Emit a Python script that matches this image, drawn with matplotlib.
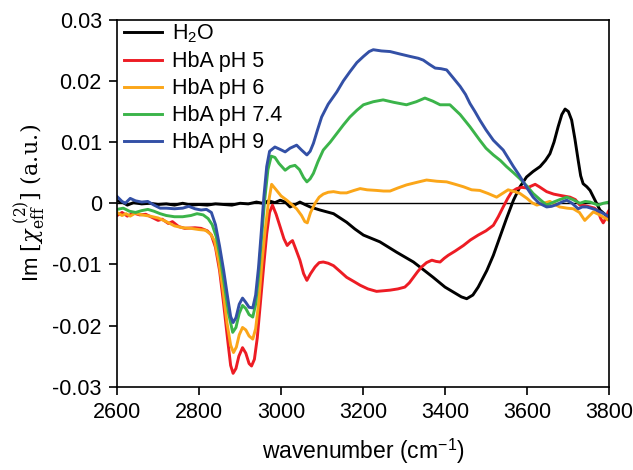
import matplotlib
matplotlib.use("Agg")
import matplotlib.pyplot as plt
import numpy as np

plt.rcParams['font.family'] = ['Liberation Sans', 'DejaVu Sans']
plt.rcParams['mathtext.fontset'] = 'dejavuserif'

wn_h2o = [2600, 2615, 2625, 2640, 2660, 2680, 2700, 2720, 2740, 2760, 2780, 2800, 2820, 2840,
          2860, 2880, 2900, 2920, 2940, 2955, 2970, 2985, 2998, 3010, 3022, 3035, 3046, 3058,
          3071, 3095, 3128, 3160, 3180, 3201, 3241, 3282, 3323, 3350, 3371, 3400, 3420, 3440,
          3453, 3468, 3481, 3502, 3518, 3534, 3550, 3567, 3583, 3599, 3615, 3632, 3645, 3656,
          3666, 3676, 3685, 3693, 3701, 3709, 3717, 3725, 3731, 3737, 3746, 3754, 3766, 3778,
          3790, 3800]
im_h2o = [0.0004, 0.0001, -0.0003, 0.0001, -0.0001, 0.0000, -0.0002, -0.0001, -0.0003, 0.0000,
          -0.0003, -0.0002, -0.0003, -0.0001, -0.0002, -0.0003, 0.0000, -0.0001, 0.0002, 0.0000,
          0.0004, 0.0001, 0.0005, 0.0002, -0.0006, -0.0002, 0.0002, -0.0002, -0.0006, -0.0011,
          -0.0017, -0.0031, -0.0042, -0.0052, -0.0063, -0.0080, -0.0096, -0.0110, -0.0121,
          -0.0137, -0.0145, -0.0153, -0.0156, -0.0150, -0.0137, -0.0110, -0.0085, -0.0055,
          -0.0025, 0.0005, 0.0027, 0.0043, 0.0052, 0.0060, 0.0070, 0.0081, 0.0100, 0.0125,
          0.0145, 0.0154, 0.0150, 0.0136, 0.0105, 0.0070, 0.0045, 0.0032, 0.0027, 0.0021,
          0.0005, -0.0011, -0.0018, -0.0022]

wn_ph5 = [2600, 2612, 2625, 2640, 2655, 2670, 2685, 2700, 2710, 2725, 2735, 2750, 2765, 2790,
          2805, 2820, 2830, 2840, 2850, 2860, 2870, 2877, 2883, 2890, 2897, 2906, 2914, 2922,
          2928, 2935, 2942, 2950, 2958, 2965, 2972, 2979, 2988, 2998, 3007, 3015, 3022, 3028,
          3036, 3046, 3055, 3063, 3072, 3083, 3093, 3103, 3115, 3128, 3145, 3160, 3178, 3193,
          3212, 3233, 3250, 3266, 3285, 3302, 3313, 3323, 3333, 3343, 3355, 3368, 3378, 3388,
          3398, 3408, 3425, 3445, 3462, 3481, 3500, 3518, 3530, 3542, 3553, 3563, 3575, 3587,
          3600, 3610, 3620, 3630, 3648, 3665, 3680, 3705, 3718, 3729, 3742, 3754, 3765, 3774,
          3780, 3786, 3792, 3798, 3800]
im_ph5 = [-0.0020, -0.0015, -0.0021, -0.0016, -0.0019, -0.0018, -0.0023, -0.0028, -0.0026,
          -0.0033, -0.0030, -0.0038, -0.0041, -0.0040, -0.0041, -0.0045, -0.0052, -0.0072,
          -0.0110, -0.0165, -0.0225, -0.0265, -0.0278, -0.0270, -0.0250, -0.0236, -0.0245,
          -0.0262, -0.0266, -0.0255, -0.0220, -0.0160, -0.0100, -0.0050, -0.0015, -0.0003,
          -0.0018, -0.0039, -0.0058, -0.0069, -0.0064, -0.0061, -0.0075, -0.0093, -0.0115,
          -0.0126, -0.0115, -0.0104, -0.0097, -0.0096, -0.0098, -0.0102, -0.0112, -0.0121,
          -0.0128, -0.0134, -0.0140, -0.0144, -0.0143, -0.0142, -0.0140, -0.0137, -0.0130,
          -0.0121, -0.0112, -0.0104, -0.0097, -0.0093, -0.0095, -0.0096, -0.0090, -0.0085,
          -0.0078, -0.0069, -0.0060, -0.0052, -0.0045, -0.0036, -0.0022, -0.0006, 0.0008,
          0.0019, 0.0024, 0.0026, 0.0025, 0.0028, 0.0031, 0.0027, 0.0019, 0.0015, 0.0013,
          0.0010, 0.0006, -0.0003, -0.0004, -0.0006, -0.0008, -0.0014, -0.0025, -0.0032,
          -0.0025, -0.0014, -0.0012]

wn_ph6 = [2600, 2612, 2622, 2632, 2645, 2660, 2680, 2700, 2720, 2740, 2760, 2780, 2800, 2815,
          2828, 2838, 2848, 2858, 2868, 2877, 2884, 2891, 2898, 2906, 2914, 2922, 2931, 2938,
          2945, 2953, 2961, 2969, 2977, 2988, 3000, 3014, 3026, 3038, 3050, 3058, 3064, 3072,
          3083, 3093, 3103, 3115, 3128, 3145, 3160, 3178, 3193, 3210, 3233, 3250, 3266, 3285,
          3306, 3330, 3355, 3380, 3404, 3425, 3445, 3465, 3485, 3505, 3526, 3540, 3554, 3570,
          3583, 3600, 3612, 3624, 3640, 3656, 3668, 3680, 3698, 3713, 3728, 3741, 3750, 3762,
          3780, 3800]
im_ph6 = [-0.0015, -0.0020, -0.0017, -0.0021, -0.0016, -0.0019, -0.0021, -0.0024, -0.0030,
          -0.0037, -0.0040, -0.0041, -0.0043, -0.0044, -0.0050, -0.0062, -0.0095, -0.0140,
          -0.0195, -0.0232, -0.0244, -0.0235, -0.0215, -0.0203, -0.0207, -0.0217, -0.0222,
          -0.0205, -0.0165, -0.0100, -0.0045, 0.0000, 0.0031, 0.0022, 0.0012, 0.0005, -0.0002,
          -0.0009, -0.0020, -0.0030, -0.0032, -0.0015, 0.0000, 0.0010, 0.0015, 0.0018, 0.0019,
          0.0017, 0.0017, 0.0021, 0.0024, 0.0022, 0.0021, 0.0020, 0.0020, 0.0025, 0.0030,
          0.0034, 0.0038, 0.0036, 0.0035, 0.0031, 0.0027, 0.0022, 0.0021, 0.0016, 0.0010,
          0.0016, 0.0022, 0.0019, 0.0016, 0.0008, 0.0001, -0.0003, 0.0000, 0.0003, -0.0002,
          -0.0006, -0.0008, -0.0009, -0.0015, -0.0028, -0.0022, -0.0014, -0.0020, -0.0028]

wn_ph74 = [2600, 2615, 2630, 2645, 2660, 2675, 2690, 2705, 2720, 2740, 2760, 2780, 2795, 2810,
           2822, 2832, 2842, 2852, 2862, 2872, 2882, 2890, 2898, 2906, 2914, 2922, 2931, 2938,
           2945, 2952, 2960, 2968, 2976, 2985, 2995, 3010, 3022, 3034, 3045, 3055, 3063, 3071,
           3079, 3090, 3103, 3120, 3136, 3152, 3168, 3185, 3201, 3225, 3249, 3275, 3306, 3330,
           3351, 3370, 3388, 3412, 3437, 3461, 3485, 3500, 3518, 3535, 3550, 3567, 3583, 3600,
           3615, 3632, 3648, 3665, 3680, 3697, 3712, 3729, 3742, 3754, 3766, 3774, 3786, 3800]
im_ph74 = [-0.0010, -0.0008, -0.0013, -0.0015, -0.0012, -0.0010, -0.0013, -0.0017, -0.0020,
           -0.0022, -0.0022, -0.0020, -0.0017, -0.0019, -0.0025, -0.0035, -0.0055, -0.0090,
           -0.0135, -0.0180, -0.0211, -0.0203, -0.0180, -0.0167, -0.0172, -0.0182, -0.0186,
           -0.0165, -0.0120, -0.0060, 0.0005, 0.0055, 0.0077, 0.0075, 0.0065, 0.0054, 0.0060,
           0.0062, 0.0055, 0.0042, 0.0035, 0.0040, 0.0049, 0.0068, 0.0087, 0.0100, 0.0114,
           0.0128, 0.0141, 0.0152, 0.0161, 0.0166, 0.0169, 0.0165, 0.0161, 0.0166, 0.0172,
           0.0167, 0.0161, 0.0161, 0.0145, 0.0125, 0.0103, 0.0090, 0.0079, 0.0070, 0.0060,
           0.0050, 0.0040, 0.0028, 0.0016, 0.0006, -0.0003, 0.0002, 0.0006, 0.0010, 0.0006,
           0.0000, 0.0003, 0.0002, -0.0001, -0.0003, 0.0000, 0.0002]

wn_ph9 = [2600, 2612, 2620, 2632, 2645, 2660, 2675, 2690, 2705, 2720, 2740, 2760, 2775, 2790,
          2805, 2818, 2830, 2840, 2850, 2860, 2870, 2877, 2883, 2890, 2898, 2906, 2914, 2922,
          2931, 2938, 2945, 2952, 2958, 2965, 2972, 2985, 2998, 3010, 3022, 3038, 3050, 3063,
          3071, 3079, 3089, 3099, 3115, 3136, 3152, 3168, 3185, 3201, 3215, 3225, 3245, 3266,
          3290, 3315, 3335, 3347, 3362, 3376, 3390, 3404, 3420, 3437, 3450, 3461, 3473, 3485,
          3500, 3518, 3530, 3542, 3555, 3567, 3580, 3591, 3603, 3615, 3630, 3648, 3660, 3673,
          3685, 3697, 3710, 3725, 3735, 3746, 3756, 3766, 3782, 3798, 3800]
im_ph9 = [0.0011, 0.0003, 0.0000, 0.0008, 0.0004, 0.0002, 0.0003, -0.0003, -0.0008, -0.0008,
          -0.0009, -0.0008, -0.0005, -0.0009, -0.0011, -0.0010, -0.0015, -0.0035, -0.0070,
          -0.0110, -0.0155, -0.0185, -0.0195, -0.0187, -0.0165, -0.0155, -0.0162, -0.0170,
          -0.0171, -0.0150, -0.0105, -0.0045, 0.0010, 0.0060, 0.0085, 0.0092, 0.0088, 0.0084,
          0.0090, 0.0095, 0.0087, 0.0079, 0.0085, 0.0098, 0.0120, 0.0141, 0.0162, 0.0182,
          0.0200, 0.0215, 0.0230, 0.0240, 0.0248, 0.0251, 0.0249, 0.0248, 0.0244, 0.0240,
          0.0237, 0.0234, 0.0227, 0.0221, 0.0220, 0.0218, 0.0205, 0.0191, 0.0178, 0.0163,
          0.0150, 0.0136, 0.0120, 0.0103, 0.0095, 0.0087, 0.0073, 0.0060, 0.0047, 0.0035,
          0.0022, 0.0010, 0.0000, -0.0006, -0.0005, -0.0002, 0.0002, 0.0005, 0.0000, -0.0009,
          -0.0006, -0.0006, -0.0008, -0.0010, -0.0015, -0.0021, -0.0022]

labels = ['H$_\\mathregular{2}$O', 'HbA pH 5', 'HbA pH 6', 'HbA pH 7.4', 'HbA pH 9']
colors = ['black', '#ed1c24', '#fba619', '#3bb44a', '#3350a6']
series = [(wn_h2o, im_h2o), (wn_ph5, im_ph5), (wn_ph6, im_ph6),
          (wn_ph74, im_ph74), (wn_ph9, im_ph9)]

fig = plt.figure(figsize=(6.33, 4.70), dpi=100)
ax = fig.add_axes([0.185, 0.177, 0.777, 0.781])

# zero line
ax.axhline(0, color='black', lw=1.0, zorder=1)

for (x, y), c, lab in zip(series, colors, labels):
    ax.plot(x, y, color=c, lw=2.1, label=lab, solid_joinstyle='round', zorder=2)

ax.set_xlim(2600, 3800)
ax.set_ylim(-0.03, 0.03)
ax.set_xticks(np.arange(2600, 3801, 200))
ax.set_yticks([-0.03, -0.02, -0.01, 0, 0.01, 0.02, 0.03])
ax.set_yticklabels(['-0.03', '-0.02', '-0.01', '0', '0.01', '0.02', '0.03'])
ax.tick_params(direction='out', length=6, width=1.2, labelsize=15.5, pad=5)
for s in ax.spines.values():
    s.set_linewidth(1.2)

ax.set_xlabel('wavenumber (cm$^{\\mathregular{-1}}$)', fontsize=16.5, labelpad=10)
ax.set_ylabel(r'Im $[\chi_{\rm eff}^{\ (2)}]\ \mathrm{(a.\!u.\!)}$', fontsize=16, labelpad=4)

ax.legend(loc='upper left', frameon=False, fontsize=15.5, handlelength=1.8,
          handletextpad=0.45, labelspacing=0.28, borderaxespad=0.0,
          borderpad=0.3, bbox_to_anchor=(0.0, 1.01))

fig.savefig('out.png', dpi=100)
